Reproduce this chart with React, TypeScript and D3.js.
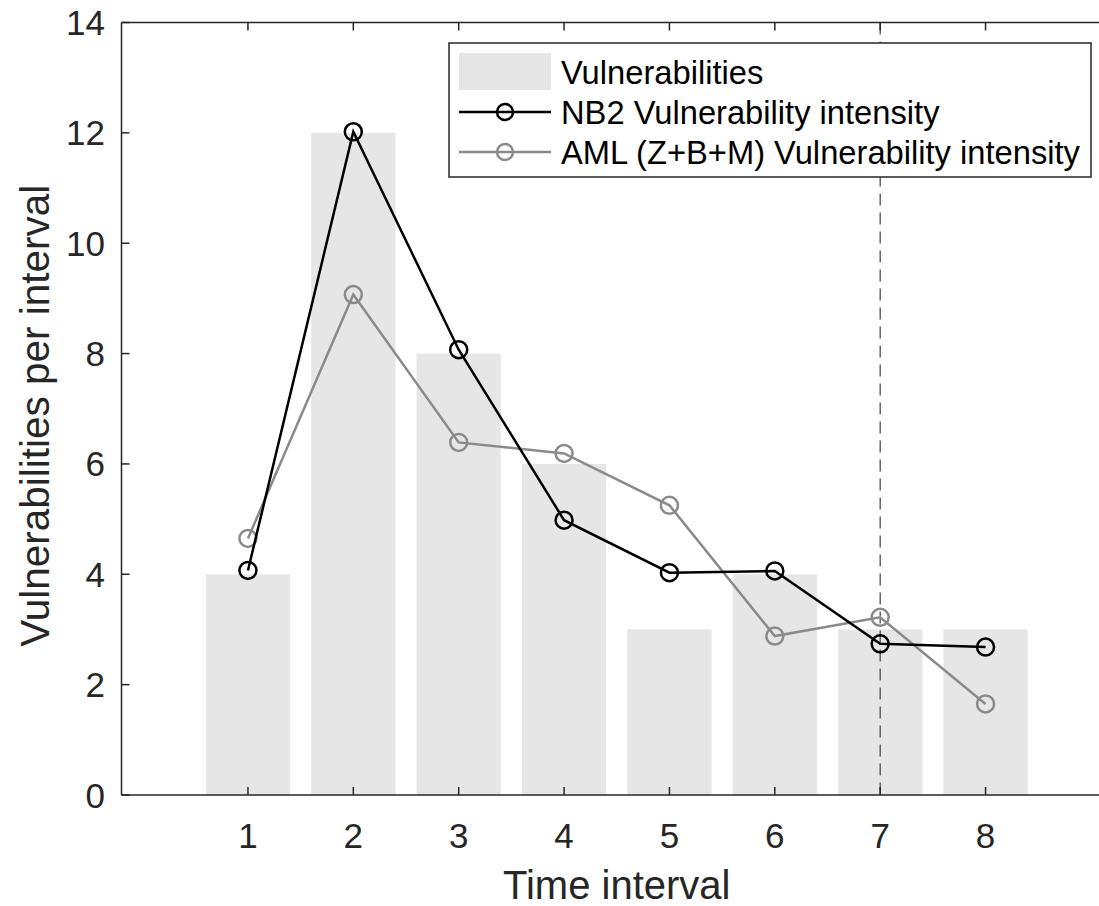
import React from "react";
import * as d3 from "d3";

const intervals = [1, 2, 3, 4, 5, 6, 7, 8];
const vulnerabilities = [4, 12, 8, 6, 3, 4, 3, 3];
const nb2Intensity = [4.07, 12.02, 8.07, 4.98, 4.03, 4.06, 2.74, 2.68];
const amlIntensity = [4.65, 9.07, 6.39, 6.19, 5.25, 2.88, 3.22, 1.65];
const yTicks = [0, 2, 4, 6, 8, 10, 12, 14];
const xTicks = [1, 2, 3, 4, 5, 6, 7, 8];
const dashedAt = 7;
const legendLabels = [
  "Vulnerabilities",
  "NB2 Vulnerability intensity",
  "AML (Z+B+M) Vulnerability intensity",
];

const W = 1099;
const H = 906;
const FONT = "'Liberation Sans', Arial, Helvetica, sans-serif";
const AX = "#262626";

export default function App() {
  const left = 121.5;
  const right = 1112;
  const top = 22.5;
  const bottom = 795;

  const x = d3.scaleLinear().domain([-0.2, 9.2]).range([left, right]);
  const y = d3.scaleLinear().domain([0, 14]).range([bottom, top]);
  const barW = (x(1) - x(0)) * 0.8;

  const line = d3
    .line<number>()
    .x((_, i) => x(intervals[i]))
    .y((d) => y(d));

  const tickLen = 8;
  const lgX = 449;
  const lgY = 43;
  const lgW = 642;
  const lgH = 134;
  const rowY = [72, 112, 152];

  return (
    <svg
      width={W}
      height={H}
      style={{ position: "absolute", left: 0, top: 0, background: "#fff" }}
      fontFamily={FONT}
    >
      <rect x={0} y={0} width={W} height={H} fill="#fff" />
      {vulnerabilities.map((v, i) => (
        <rect
          key={"b" + i}
          x={x(intervals[i]) - barW / 2}
          y={y(v)}
          width={barW}
          height={y(0) - y(v)}
          fill="#e6e6e6"
        />
      ))}
      <line
        x1={x(dashedAt)}
        x2={x(dashedAt)}
        y1={y(14)}
        y2={y(0)}
        stroke="#404040"
        strokeWidth={1.2}
        strokeDasharray="12,7"
      />
      <path d={line(amlIntensity) || ""} fill="none" stroke="#8a8a8a" strokeWidth={2.5} />
      {amlIntensity.map((v, i) => (
        <circle key={"a" + i} cx={x(intervals[i])} cy={y(v)} r={8.5} fill="none" stroke="#8a8a8a" strokeWidth={2.5} />
      ))}
      <path d={line(nb2Intensity) || ""} fill="none" stroke="#000" strokeWidth={2.5} />
      {nb2Intensity.map((v, i) => (
        <circle key={"n" + i} cx={x(intervals[i])} cy={y(v)} r={8.5} fill="none" stroke="#000" strokeWidth={2.5} />
      ))}
      <line x1={left} x2={right} y1={bottom} y2={bottom} stroke={AX} strokeWidth={1.5} />
      <line x1={left} x2={right} y1={top} y2={top} stroke={AX} strokeWidth={1.5} />
      <line x1={left} x2={left} y1={top} y2={bottom} stroke={AX} strokeWidth={1.5} />
      <line x1={right} x2={right} y1={top} y2={bottom} stroke={AX} strokeWidth={1.5} />
      {xTicks.map((t) => (
        <g key={"xt" + t}>
          <line x1={x(t)} x2={x(t)} y1={bottom} y2={bottom - tickLen} stroke={AX} strokeWidth={1.5} />
          <line x1={x(t)} x2={x(t)} y1={top} y2={top + tickLen} stroke={AX} strokeWidth={1.5} />
          <text x={x(t)} y={848} textAnchor="middle" fontSize={35} fill={AX}>
            {t}
          </text>
        </g>
      ))}
      {yTicks.map((t) => (
        <g key={"yt" + t}>
          <line x1={left} x2={left + tickLen} y1={y(t)} y2={y(t)} stroke={AX} strokeWidth={1.5} />
          <line x1={right} x2={right - tickLen} y1={y(t)} y2={y(t)} stroke={AX} strokeWidth={1.5} />
          <text x={105} y={y(t) + 12.5} textAnchor="end" fontSize={35} fill={AX}>
            {t}
          </text>
        </g>
      ))}
      <text x={(left + right) / 2} y={899} textAnchor="middle" fontSize={40} fill={AX}>
        Time interval
      </text>
      <text
        transform={`translate(49, ${(top + bottom) / 2 + 7}) rotate(-90)`}
        textAnchor="middle"
        fontSize={40.5}
        fill={AX}
      >
        Vulnerabilities per interval
      </text>
      <rect x={lgX} y={lgY} width={lgW} height={lgH} fill="#fff" stroke={AX} strokeWidth={1.5} />
      <rect x={459} y={rowY[0] - 19} width={92} height={37} fill="#e6e6e6" />
      <line x1={459} x2={551} y1={rowY[1]} y2={rowY[1]} stroke="#000" strokeWidth={2.5} />
      <circle cx={505} cy={rowY[1]} r={8} fill="none" stroke="#000" strokeWidth={2.5} />
      <line x1={459} x2={551} y1={rowY[2]} y2={rowY[2]} stroke="#8a8a8a" strokeWidth={2.5} />
      <circle cx={505} cy={rowY[2]} r={8} fill="none" stroke="#8a8a8a" strokeWidth={2.5} />
      {legendLabels.map((l, i) => (
        <text key={"l" + i} x={561} y={rowY[i] + 11.5} fontSize={32.7} fill="#000">
          {l}
        </text>
      ))}
    </svg>
  );
}
